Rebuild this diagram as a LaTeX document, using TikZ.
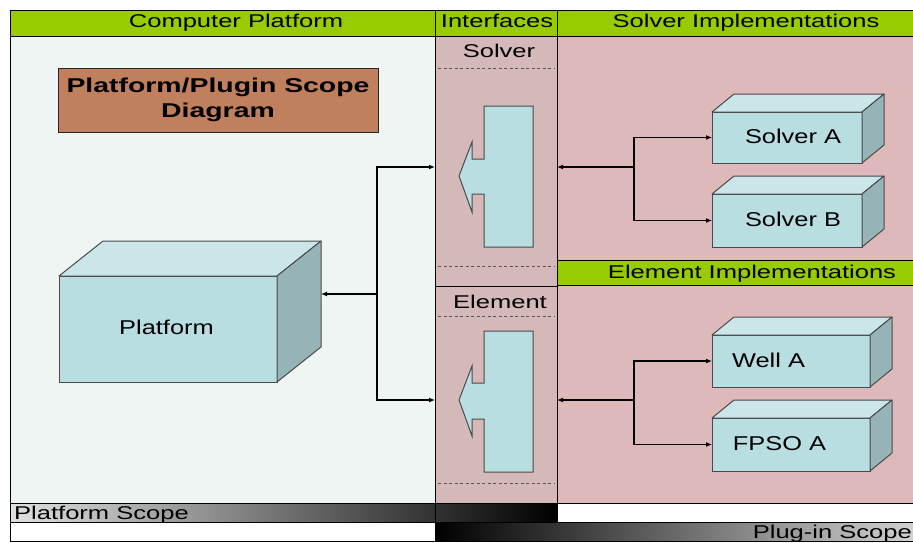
\documentclass[tikz,border=0pt]{standalone}
\usepackage{fontspec}
\setmainfont{Liberation Sans}
\newfontfamily\hdrfont[FakeStretch=1.38]{Liberation Sans}
\newfontfamily\lblfont[FakeStretch=1.27]{Liberation Sans}
\newfontfamily\ttlfont[FakeStretch=1.42]{Liberation Sans}
\usetikzlibrary{arrows.meta,calc}
\definecolor{hdrgreen}{HTML}{99CC00}
\definecolor{platbg}{HTML}{EEF5F2}
\definecolor{ifbg}{HTML}{D4B9B8}
\definecolor{implbg}{HTML}{DDBAB9}
\definecolor{titlebrown}{HTML}{C0805E}
\definecolor{cubefrontc}{HTML}{B9DEE2}
\definecolor{cubetopc}{HTML}{CAE6E9}
\definecolor{cubesidec}{HTML}{96B4B7}
\definecolor{cubeline}{HTML}{4A4A4A}
\definecolor{dashc}{HTML}{555555}
\tikzset{
  frame/.style={draw=black, line width=0.8pt},
  hdrtext/.style={font=\hdrfont\fontsize{18.5}{20}\selectfont, inner sep=0pt, anchor=base},
  lbltext/.style={font=\lblfont\fontsize{20}{22}\selectfont, inner sep=0pt, anchor=base},
  cubefront/.style={draw=cubeline, line width=1pt, fill=cubefrontc, outer sep=0pt, inner sep=0pt},
  cubeface/.style={draw=cubeline, line width=1pt, line join=round},
  conn/.style={draw=black, line width=1.7pt, -{Latex[length=6pt,width=5pt]}},
  dashsep/.style={draw=dashc, line width=0.8pt, dash pattern=on 3pt off 2.5pt},
  ifshape/.style={draw=cubeline, line width=1pt, fill=cubefrontc, line join=miter},
}
% #1 name, #2 center, #3 width, #4 height, #5 dx, #6 dy
\newcommand\mkcube[6]{%
  \node[cubefront, minimum width=#3, minimum height=#4] (#1) at (#2) {};
  \draw[cubeface, fill=cubetopc] (#1.north west) -- ++(#5,#6) -- ($(#1.north east)+(#5,#6)$) -- (#1.north east) -- cycle;
  \draw[cubeface, fill=cubesidec] (#1.north east) -- ++(#5,#6) -- ($(#1.south east)+(#5,#6)$) -- (#1.south east) -- cycle;
}
\begin{document}
\begin{tikzpicture}[x=1pt,y=-1pt]
\useasboundingbox (0,0) rectangle (913,543);
\fill[white] (0,0) rectangle (913,543);
% backgrounds
\fill[platbg] (10,36) rectangle (435,503);
\fill[ifbg] (435,36) rectangle (557,503);
\fill[implbg] (557,36) rectangle (913,503);
\fill[hdrgreen] (10,10) rectangle (913,36);
\fill[hdrgreen] (557,260) rectangle (913,285);
% bottom scope bars
\shade[left color=black!12, right color=black] (10,503) rectangle (557,522);
\shade[left color=black, right color=black!18] (435,522) rectangle (913,541);
% frame lines
\draw[frame] (913,10) -- (10,10) -- (10,541) -- (913,541);
\draw[frame] (10,36) -- (913,36);
\draw[frame] (435,10) -- (435,541);
\draw[frame] (557,10) -- (557,522);
\draw[frame] (557,260) -- (913,260);
\draw[frame] (557,285) -- (913,285);
\draw[frame] (435,286) -- (557,286);
\draw[frame] (10,503) -- (913,503);
\draw[frame] (10,522) -- (913,522);
% dashed separators
\draw[dashsep] (438,68) -- (555,68);
\draw[dashsep] (438,266) -- (555,266);
\draw[dashsep] (438,316) -- (555,316);
\draw[dashsep] (438,483) -- (555,483);
% header texts
\node[hdrtext] (hcp) at (236,28) {Computer Platform};
\node[hdrtext] (hif) at (497,28) {Interfaces};
\node[hdrtext] (hsi) at (746,28) {Solver Implementations};
\node[hdrtext] (hei) at (752,278.5) {Element Implementations};
\node[hdrtext] (lsolver) at (499,58) {Solver};
\node[hdrtext] (lelement) at (500,308.5) {Element};
\node[hdrtext, anchor=base west] (lps) at (14,519) {Platform Scope};
\node[hdrtext, anchor=base east] (lpis) at (912,538) {Plug-in Scope};
% title
\node[draw=black!85, line width=0.8pt, fill=titlebrown, minimum width=320pt, minimum height=64pt,
      align=center, font=\ttlfont\bfseries\fontsize{20}{25}\selectfont] (title) at (218,100)
      {Platform/Plugin Scope\\Diagram};
% interface shapes
\draw[ifshape] (533,106) -- (484,106) -- (484,159) -- (472,159) -- (472,142) -- (459,176)
  -- (472,212) -- (472,194) -- (484,194) -- (484,247) -- (533,247) -- cycle;
\draw[ifshape] (533,331) -- (484,331) -- (484,383) -- (472,383) -- (472,366) -- (459,400)
  -- (472,436) -- (472,419) -- (484,419) -- (484,472) -- (533,472) -- cycle;
% cubes
\mkcube{P}{168,329}{218pt}{106pt}{44}{-35}
\mkcube{SA}{787,137.5}{150pt}{51pt}{22}{-18}
\mkcube{SB}{787,220.5}{150pt}{53pt}{22}{-18}
\mkcube{WA}{791,361}{158pt}{52pt}{22}{-18}
\mkcube{FA}{791,444.5}{158pt}{53pt}{22}{-18}
\node[lbltext] (lP) at (166.5,334) {Platform};
\node[lbltext] (lSA) at (793,143) {Solver A};
\node[lbltext] (lSB) at (793,226) {Solver B};
\node[lbltext] (lWA) at (768.5,367) {Well A};
\node[lbltext] (lFA) at (779.5,450) {FPSO A};
% connector coordinates
\coordinate (Pside) at ($(P.east)+(44,-35)$);
\coordinate (JL) at (377,294);
\coordinate (iSL) at (435,167);
\coordinate (iEL) at (435,400);
\coordinate (iSR) at (557,167);
\coordinate (iER) at (557,400);
\coordinate (JS) at (634,167);
\coordinate (JE) at (634,400);
% connectors
\draw[conn] (JL) -- (Pside);
\draw[conn] (JL) |- (iSL);
\draw[conn] (JL) |- (iEL);
\draw[conn] (JS) -- (iSR);
\draw[conn] (JS) |- (SA.west);
\draw[conn] (JS) |- (SB.west);
\draw[conn] (JE) -- (iER);
\draw[conn] (JE) |- (WA.west);
\draw[conn] (JE) |- (FA.west);
\end{tikzpicture}
\end{document}
